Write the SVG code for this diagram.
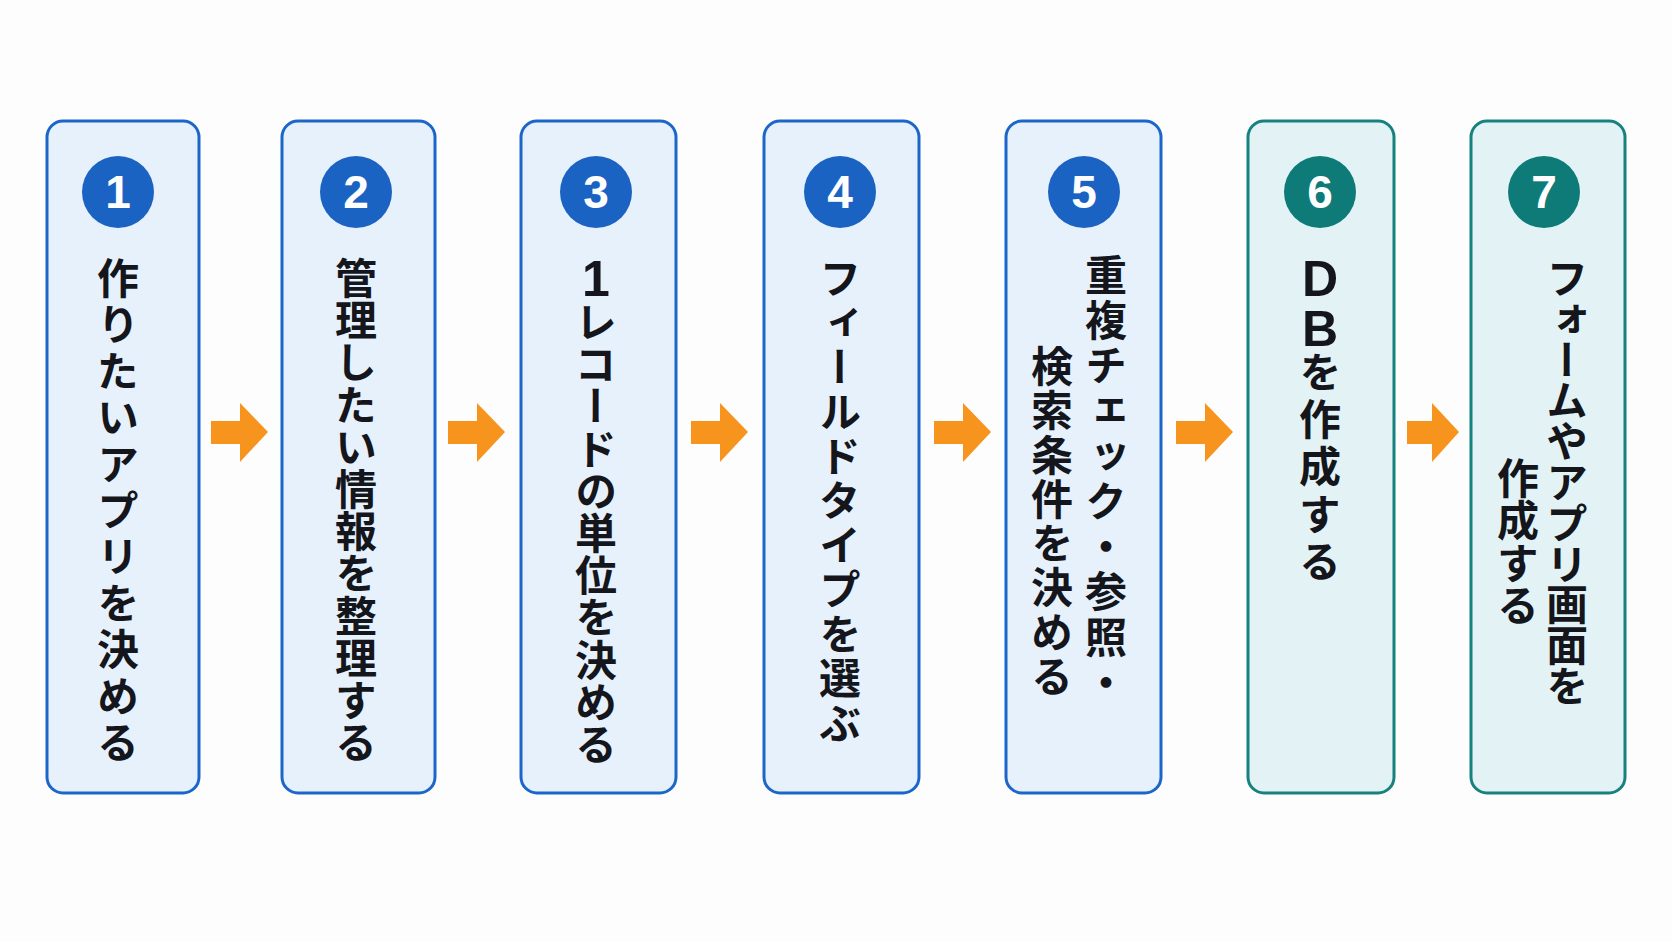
<svg xmlns="http://www.w3.org/2000/svg" width="1672" height="941" viewBox="0 0 1672 941">
<style>
.bb{fill:#e6f1fc;stroke:#1c66c9;stroke-width:3}
.tb{fill:#e3f3f5;stroke:#17817f;stroke-width:3}
.bc{fill:#1a63c3}
.tc{fill:#0e7b78}
.num{font-family:"Liberation Sans","Noto Sans",sans-serif;font-weight:bold;font-size:46px;fill:#fff;text-anchor:middle}
.vt{font-family:"Noto Sans CJK JP","Noto Sans",sans-serif;font-weight:bold;font-size:42px;fill:#14161c;writing-mode:vertical-rl;text-orientation:upright}
.lat{font-family:"Liberation Sans","Noto Sans",sans-serif;font-size:50px}
.arr{fill:#f7941d}
</style>
<rect width="1672" height="941" fill="#fdfdfe"/>
<g id="connectors">
<path class="arr" d="M211,421 h29 v-18 l28,29 l-28,30 v-18 h-29 z"/>
<path class="arr" d="M448,421 h29 v-18 l28,29 l-28,30 v-18 h-29 z"/>
<path class="arr" d="M691,421 h29 v-18 l28,29 l-28,30 v-18 h-29 z"/>
<path class="arr" d="M934,421 h29 v-18 l28,29 l-28,30 v-18 h-29 z"/>
<path class="arr" d="M1176,421 h29 v-18 l28,29 l-28,30 v-18 h-29 z"/>
<path class="arr" d="M1407,421 h25 v-18 l27,29 l-27,30 v-18 h-25 z"/>
</g>
<g id="node1">
<rect class="bb" x="47" y="121" width="152" height="672" rx="16"/>
<circle class="bc" cx="118" cy="192" r="36"/>
<text class="num" x="118" y="208">1</text>
<text class="vt" x="118" y="257" letter-spacing="4.4">作りたいアプリを決める</text>
</g>
<g id="node2">
<rect class="bb" x="282" y="121" width="153" height="672" rx="16"/>
<circle class="bc" cx="356" cy="192" r="36"/>
<text class="num" x="356" y="208">2</text>
<text class="vt" x="356" y="257" letter-spacing="0.2">管理したい情報を整理する</text>
</g>
<g id="node3">
<rect class="bb" x="521" y="121" width="155" height="672" rx="16"/>
<circle class="bc" cx="596" cy="192" r="36"/>
<text class="num" x="596" y="208">3</text>
<text class="vt" x="596" y="251" letter-spacing="0.2"><tspan class="lat" letter-spacing="-6">1</tspan>レコードの単位を決める</text>
</g>
<g id="node4">
<rect class="bb" x="764" y="121" width="155" height="672" rx="16"/>
<circle class="bc" cx="840" cy="192" r="36"/>
<text class="num" x="840" y="208">4</text>
<text class="vt" x="840" y="257" letter-spacing="2.5">フィールドタイプを選ぶ</text>
</g>
<g id="node5">
<rect class="bb" x="1006" y="121" width="155" height="672" rx="16"/>
<circle class="bc" cx="1084" cy="192" r="36"/>
<text class="num" x="1084" y="208">5</text>
<text class="vt" x="1106" y="254" letter-spacing="3.2">重複チェック・参照・</text>
<text class="vt" x="1052" y="345" letter-spacing="2.3">検索条件を決める</text>
</g>
<g id="node6">
<rect class="tb" x="1248" y="121" width="146" height="672" rx="16"/>
<circle class="tc" cx="1320" cy="192" r="36"/>
<text class="num" x="1320" y="208">6</text>
<text class="vt" x="1320" y="251" letter-spacing="5.2"><tspan class="lat" letter-spacing="-6">DB</tspan>を作成する</text>
</g>
<g id="node7">
<rect class="tb" x="1471" y="121" width="154" height="672" rx="16"/>
<circle class="tc" cx="1544" cy="192" r="36"/>
<text class="num" x="1544" y="208">7</text>
<text class="vt" x="1567" y="257" letter-spacing="-1.2">フォームやアプリ画面を</text>
<text class="vt" x="1518" y="457" letter-spacing="0.3">作成する</text>
</g>
</svg>
